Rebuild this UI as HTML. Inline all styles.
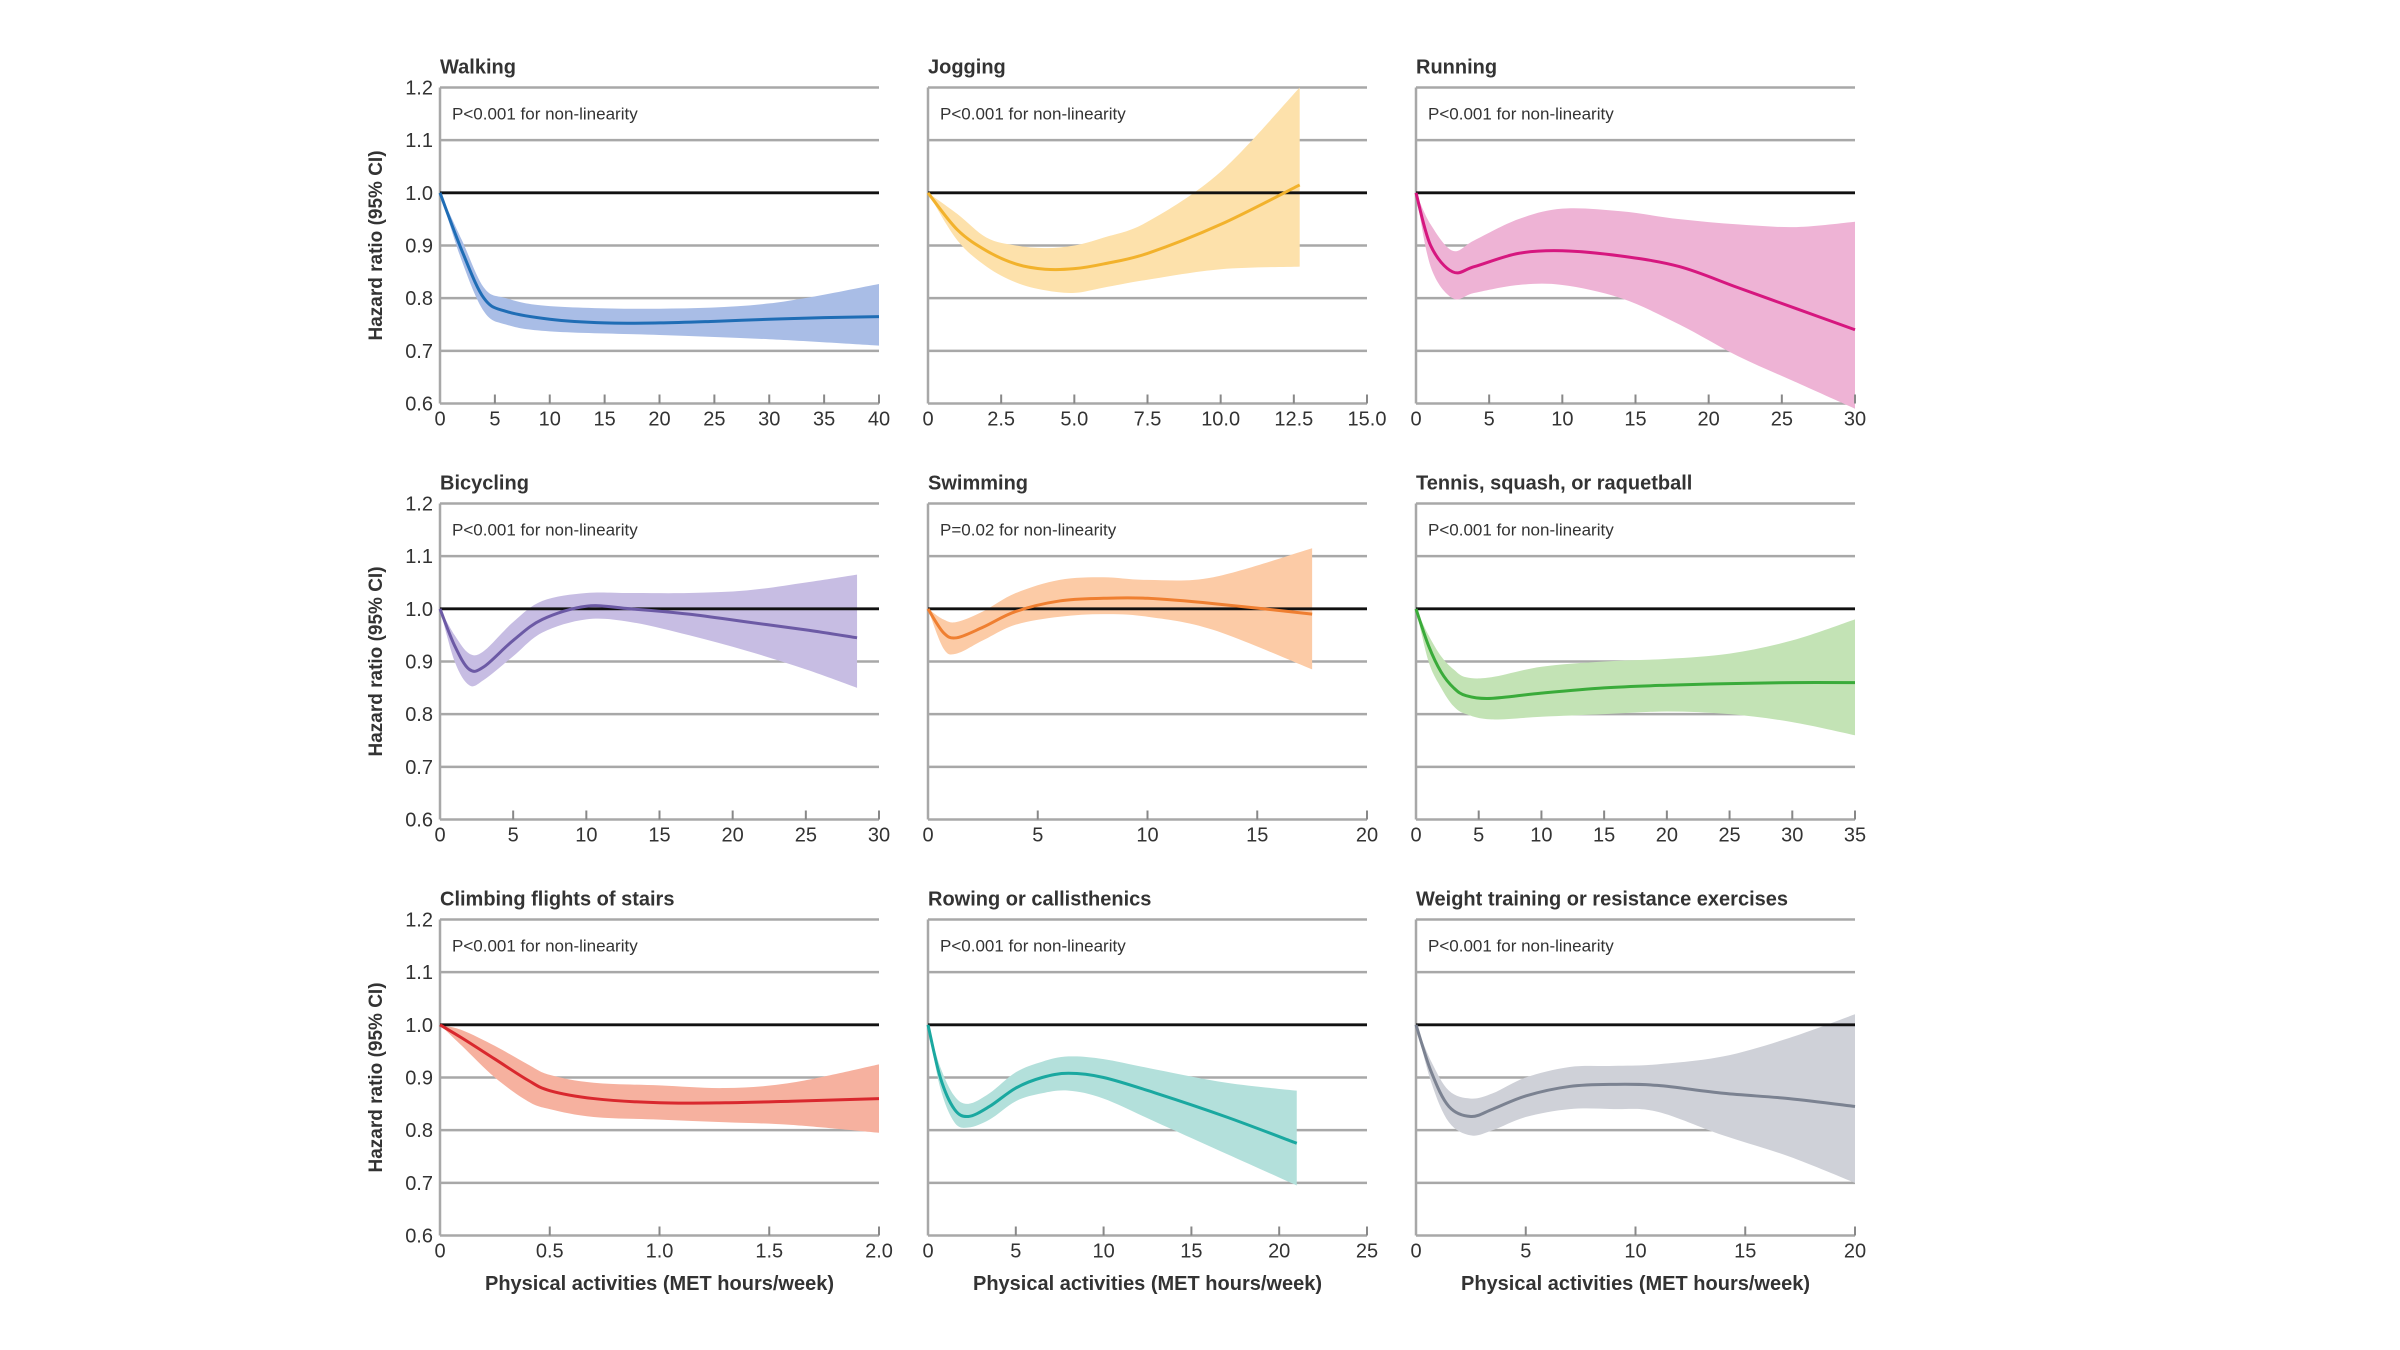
<!DOCTYPE html>
<html><head><meta charset="utf-8"><style>
html,body{margin:0;padding:0;background:#fff;}
svg{display:block;}
text{font-family:"Liberation Sans",sans-serif;}
</style></head><body>
<svg id="s" width="2400" height="1350" xmlns="http://www.w3.org/2000/svg"></svg>
<script>
const S=document.getElementById('s');
const NS='http://www.w3.org/2000/svg';
function el(t,a,txt){const e=document.createElementNS(NS,t);for(const k in a)e.setAttribute(k,a[k]);if(txt!==undefined)e.textContent=txt;S.appendChild(e);return e;}
const colX=[440,928,1416],rowY=[87.5,503.5,919.5],W=439,H=316;
function path(pts){let d='M'+pts[0][0]+','+pts[0][1];for(let i=0;i<pts.length-1;i++){const p0=pts[Math.max(0,i-1)],p1=pts[i],p2=pts[i+1],p3=pts[Math.min(pts.length-1,i+2)];const c1=[p1[0]+(p2[0]-p0[0])/6,p1[1]+(p2[1]-p0[1])/6],c2=[p2[0]-(p3[0]-p1[0])/6,p2[1]-(p3[1]-p1[1])/6];d+=' C'+c1.join(',')+' '+c2.join(',')+' '+p2.join(',');}return d;}
const P=[
{t:'Walking',p:'P<0.001 for non-linearity',xm:40,ticks:[0,5,10,15,20,25,30,35,40],lab:null,lc:'#1f6db5',bc:'#a9bde6',
c:[[0,1],[2,.89],[4,.80],[6,.775],[10,.76],[15,.753],[20,.753],[25,.756],[30,.76],[35,.763],[40,.765]],
lo:[[0,1],[2,.87],[4,.775],[6,.75],[10,.737],[20,.73],[30,.722],[40,.71]],
hi:[[0,1],[2,.91],[4,.82],[6,.80],[10,.785],[20,.78],[30,.79],[40,.827]]},
{t:'Jogging',p:'P<0.001 for non-linearity',xm:15,ticks:[0,2.5,5,7.5,10,12.5,15],lab:['0','2.5','5.0','7.5','10.0','12.5','15.0'],lc:'#f2b22c',bc:'#fde1ab',
c:[[0,1],[1,.93],[2,.89],[3,.865],[4,.855],[5,.856],[6,.865],[7.5,.885],[10,.94],[12.7,1.015]],
lo:[[0,1],[1,.91],[2,.86],[3,.83],[4,.815],[5,.81],[6,.82],[7.5,.835],[10,.855],[12.7,.86]],
hi:[[0,1],[1,.96],[2,.915],[3,.9],[4,.895],[5,.9],[6,.915],[7.5,.945],[10,1.04],[12.7,1.2]]},
{t:'Running',p:'P<0.001 for non-linearity',xm:30,ticks:[0,5,10,15,20,25,30],lab:null,lc:'#d6177f',bc:'#eeb3d5',
c:[[0,1],[1,.9],[2.5,.85],[4,.86],[7,.885],[10,.89],[14,.88],[18,.86],[22,.82],[26,.78],[30,.74]],
lo:[[0,1],[1,.86],[2.5,.80],[4,.81],[7,.825],[10,.825],[14,.8],[18,.75],[22,.69],[26,.64],[30,.59]],
hi:[[0,1],[1,.94],[2.5,.89],[4,.91],[7,.95],[10,.97],[14,.965],[18,.95],[22,.94],[26,.935],[30,.945]]},
{t:'Bicycling',p:'P<0.001 for non-linearity',xm:30,ticks:[0,5,10,15,20,25,30],lab:null,lc:'#6c5aa5',bc:'#c7bde3',
c:[[0,1],[1,.93],[2,.885],[3,.89],[5,.94],[7,.98],[10,1.005],[13,1.0],[17,.99],[21,.975],[25,.96],[28.5,.945]],
lo:[[0,1],[1,.9],[2,.855],[3,.865],[5,.91],[7,.955],[10,.98],[13,.975],[17,.95],[21,.92],[25,.885],[28.5,.85]],
hi:[[0,1],[1,.95],[2,.915],[3,.92],[5,.975],[7,1.015],[10,1.03],[13,1.03],[17,1.03],[21,1.035],[25,1.05],[28.5,1.065]]},
{t:'Swimming',p:'P=0.02 for non-linearity',xm:20,ticks:[0,5,10,15,20],lab:null,lc:'#ef7f31',bc:'#fccba6',
c:[[0,1],[.7,.955],[1.3,.945],[2.5,.965],[4,.995],[6,1.015],[8,1.02],[10,1.02],[13,1.01],[17.5,.99]],
lo:[[0,1],[.7,.925],[1.3,.915],[2.5,.94],[4,.97],[6,.985],[8,.99],[10,.985],[13,.96],[17.5,.885]],
hi:[[0,1],[.7,.98],[1.3,.975],[2.5,.995],[4,1.03],[6,1.055],[8,1.06],[10,1.055],[13,1.06],[17.5,1.115]]},
{t:'Tennis, squash, or raquetball',p:'P<0.001 for non-linearity',xm:35,ticks:[0,5,10,15,20,25,30,35],lab:null,lc:'#3aab3a',bc:'#c3e3b5',
c:[[0,1],[1,.93],[2,.88],[3,.85],[4,.835],[6,.83],[10,.84],[15,.85],[20,.855],[25,.858],[30,.86],[35,.86]],
lo:[[0,1],[1,.9],[2,.85],[3,.815],[4,.8],[6,.79],[10,.795],[15,.8],[20,.805],[25,.8],[30,.785],[35,.76]],
hi:[[0,1],[1,.95],[2,.91],[3,.885],[4,.87],[6,.87],[10,.89],[15,.9],[20,.905],[25,.915],[30,.94],[35,.98]]},
{t:'Climbing flights of stairs',p:'P<0.001 for non-linearity',xm:2,ticks:[0,.5,1,1.5,2],lab:['0','0.5','1.0','1.5','2.0'],lc:'#d9282e',bc:'#f6b19f',
c:[[0,1],[.1,.975],[.25,.935],[.4,.895],[.5,.875],[.7,.86],[1,.852],[1.3,.852],[1.6,.855],[2,.86]],
lo:[[0,1],[.1,.96],[.25,.9],[.4,.855],[.5,.84],[.7,.825],[1,.82],[1.3,.815],[1.6,.81],[2,.795]],
hi:[[0,1],[.1,.99],[.25,.96],[.4,.925],[.5,.905],[.7,.89],[1,.885],[1.3,.88],[1.6,.89],[2,.925]]},
{t:'Rowing or callisthenics',p:'P<0.001 for non-linearity',xm:25,ticks:[0,5,10,15,20,25],lab:null,lc:'#1aa8a0',bc:'#b3e0db',
c:[[0,1],[.7,.9],[1.5,.84],[2.3,.826],[3.5,.845],[5,.88],[6.5,.9],[8,.908],[10,.9],[13,.87],[17,.825],[21,.775]],
lo:[[0,1],[.7,.88],[1.5,.815],[2.3,.805],[3.5,.82],[5,.855],[6.5,.87],[8,.875],[10,.86],[13,.815],[17,.755],[21,.695]],
hi:[[0,1],[.7,.92],[1.5,.865],[2.3,.85],[3.5,.87],[5,.91],[6.5,.93],[8,.94],[10,.935],[13,.915],[17,.89],[21,.875]]},
{t:'Weight training or resistance exercises',p:'P<0.001 for non-linearity',xm:20,ticks:[0,5,10,15,20],lab:null,lc:'#7b8291',bc:'#cfd1d8',
c:[[0,1],[.7,.91],[1.5,.845],[2.5,.826],[3.5,.84],[5,.865],[7,.883],[9,.887],[11,.885],[14,.87],[17,.86],[20,.845]],
lo:[[0,1],[.7,.89],[1.5,.815],[2.5,.79],[3.5,.8],[5,.825],[7,.84],[9,.84],[11,.835],[14,.79],[17,.75],[20,.7]],
hi:[[0,1],[.7,.93],[1.5,.875],[2.5,.86],[3.5,.87],[5,.9],[7,.92],[9,.922],[11,.925],[14,.94],[17,.975],[20,1.02]]}
];
P.forEach((d,i)=>{
 const r=Math.floor(i/3),c=i%3,x0=colX[c],y0=rowY[r];
 const X=v=>+(x0+v/d.xm*W).toFixed(2),Y=v=>+(y0+(1.2-v)/0.6*H).toFixed(2);
 for(let k=0;k<=6;k++){const yy=y0+k*H/6;if(k!==2)el('line',{x1:x0,x2:x0+W,y1:yy,y2:yy,stroke:'#a8a8a8','stroke-width':2.5});}
 el('line',{x1:x0,x2:x0,y1:y0,y2:y0+H,stroke:'#a8a8a8','stroke-width':2.5});
 const hi=d.hi.map(p=>[X(p[0]),Y(p[1])]),lo=d.lo.map(p=>[X(p[0]),Y(p[1])]).reverse();
 let bd=path(hi);const lp=path(lo);bd+=' L'+lp.slice(1)+' Z';
 el('path',{d:bd,fill:d.bc,stroke:'none'});
 el('line',{x1:x0,x2:x0+W,y1:Y(1),y2:Y(1),stroke:'#111','stroke-width':2.8});
 el('path',{d:path(d.c.map(p=>[X(p[0]),Y(p[1])])),fill:'none',stroke:d.lc,'stroke-width':3});
 d.ticks.forEach((t,j)=>{const xx=X(t);if(j>0)el('line',{x1:xx,x2:xx,y1:y0+H,y2:y0+H-9,stroke:'#888','stroke-width':2});
  el('text',{x:xx,y:y0+H+22,'text-anchor':'middle','font-size':20,fill:'#333'},d.lab?d.lab[j]:String(t));});
 el('text',{x:x0,y:y0-14,'font-size':20,'font-weight':'bold',fill:'#333'},d.t);
 el('text',{x:x0+12,y:y0+32,'font-size':17,fill:'#333'},d.p);
 if(c===0){[1.2,1.1,1.0,0.9,0.8,0.7,0.6].forEach((v,k)=>el('text',{x:x0-7,y:y0+k*H/6+7,'text-anchor':'end','font-size':20,fill:'#333'},v.toFixed(1)));
  el('text',{x:0,y:0,transform:`translate(382,${y0+H/2}) rotate(-90)`,'text-anchor':'middle','font-size':19,'font-weight':'bold',fill:'#333'},'Hazard ratio (95% CI)');}
 if(r===2)el('text',{x:x0+W/2,y:1290,'text-anchor':'middle','font-size':20,'font-weight':'bold',fill:'#333'},'Physical activities (MET hours/week)');
});
</script>
</body></html>
